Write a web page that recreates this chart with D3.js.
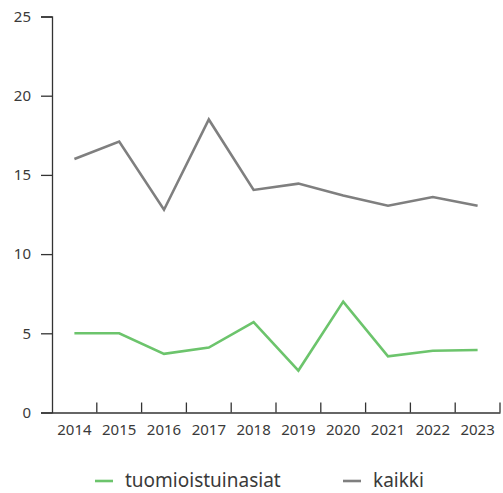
<!DOCTYPE html>
<html><head><meta charset="utf-8">
<script src="https://cdn.jsdelivr.net/npm/d3@7"></script>
<style>body{margin:0;background:#fff;} text{font-family:"Noto Sans",sans-serif;}</style>
</head><body>
<svg id="c" width="503" height="493"></svg>
<script>
const years = ["2014","2015","2016","2017","2018","2019","2020","2021","2022","2023"];
const tuomioistuinasiat = [5.0,5.0,3.7,4.1,5.7,2.65,7.0,3.55,3.9,3.95];
const kaikki = [16.0,17.1,12.8,18.5,14.05,14.45,13.7,13.05,13.6,13.05];
const yTicks = [0,5,10,15,20,25];
const seriesNames = ["tuomioistuinasiat","kaikki"];
const colors = ["#6cc46c","#7f7f7f"];

(function(){
const svg = d3.select("#c");
const mLeft=52, mRight=500, mTop=16.5, mBottom=412.5;
const x = d3.scaleBand().domain(years).range([mLeft,mRight]);
const y = d3.scaleLinear().domain([0,25]).range([mBottom,mTop]);
const axisColor="#333";
const textColor="#3a3a3a";

// y axis
const ya = svg.append("g").attr("transform",`translate(${mLeft},0)`)
  .call(d3.axisLeft(y).tickValues(yTicks).tickSize(11).tickPadding(10));
ya.select(".domain").attr("stroke",axisColor).attr("stroke-width",1.3);
ya.selectAll(".tick line").attr("stroke",axisColor).attr("stroke-width",1.3);
ya.selectAll("text").attr("font-size",15).attr("fill",textColor).attr("font-family","Noto Sans");

// x axis
const xa = svg.append("g").attr("transform",`translate(0,${mBottom})`)
  .call(d3.axisBottom(x).tickSize(0).tickPadding(12));
xa.select(".domain").attr("stroke",axisColor).attr("stroke-width",1.3);
xa.selectAll("text").attr("font-size",15).attr("fill",textColor).attr("font-family","Noto Sans");
svg.append("g").selectAll("line").data(years).join("line")
  .attr("x1",d=>x(d)+x.bandwidth()).attr("x2",d=>x(d)+x.bandwidth())
  .attr("y1",mBottom).attr("y2",mBottom-10)
  .attr("stroke",axisColor).attr("stroke-width",1.3);

const line = d3.line().x((d,i)=>x(years[i])+x.bandwidth()/2).y(d=>y(d));
[tuomioistuinasiat,kaikki].forEach((s,k)=>{
  svg.append("path").datum(s).attr("d",line).attr("fill","none")
    .attr("stroke",colors[k]).attr("stroke-width",2.6).attr("stroke-linejoin","miter");
});

// legend
const lx=[95,343];
seriesNames.forEach((n,k)=>{
  const g=svg.append("g");
  g.append("line").attr("x1",lx[k]).attr("x2",lx[k]+18).attr("y1",481).attr("y2",481)
    .attr("stroke",colors[k]).attr("stroke-width",2.6);
  g.append("text").attr("x",lx[k]+30).attr("y",487).attr("font-size",19).attr("fill",textColor).text(n);
});
})();
</script>
</body></html>
